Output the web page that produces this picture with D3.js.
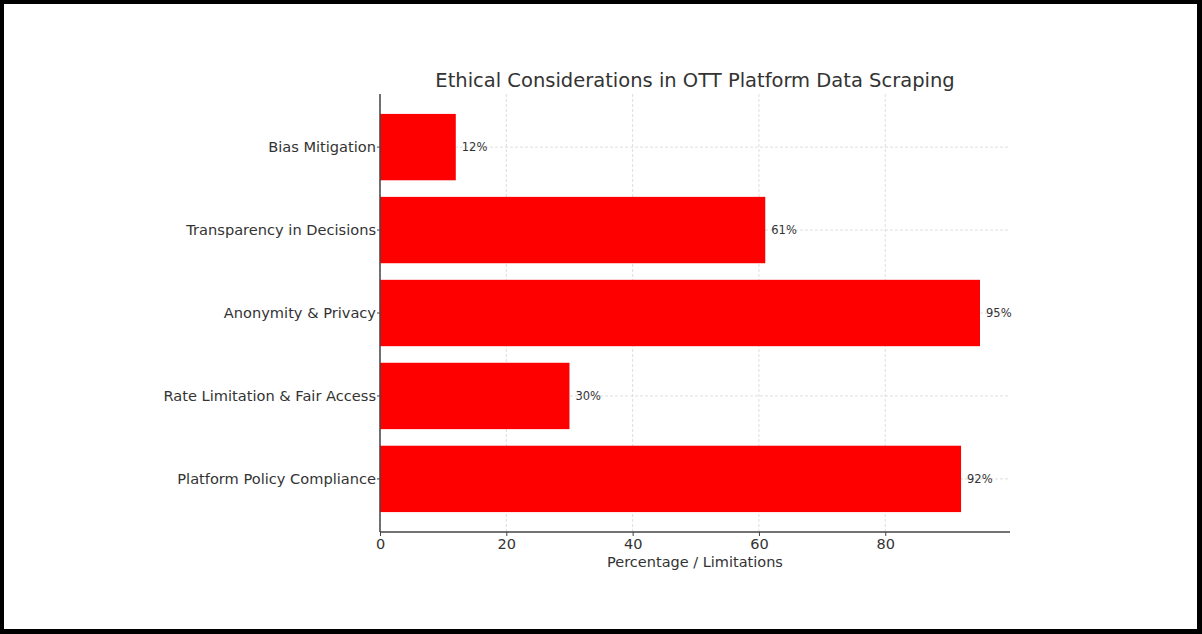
<!DOCTYPE html>
<html>
<head>
<meta charset="utf-8">
<script src="https://cdn.jsdelivr.net/npm/d3@7"></script>
<style>
  html, body { margin: 0; padding: 0; background: #000; }
  svg { display: block; }
  text { font-family: "DejaVu Sans", sans-serif; }
</style>
</head>
<body>
<svg id="chart" width="1202" height="634"></svg>
<script>
const categories = ["Bias Mitigation", "Transparency in Decisions", "Anonymity & Privacy", "Rate Limitation & Fair Access", "Platform Policy Compliance"];
const values = [12, 61, 95, 30, 92];
const xTicks = [0, 20, 40, 60, 80];
const title = "Ethical Considerations in OTT Platform Data Scraping";
const xLabel = "Percentage / Limitations";

(function () {
const svg = d3.select("#chart");
svg.append("rect").attr("x", 4).attr("y", 4).attr("width", 1193).attr("height", 625).attr("fill", "#fff");

const pL = 380, pR = 1010, pT = 94, pB = 532;
const x = d3.scaleLinear().domain([0, 99.75]).range([pL, pR]);
const y = d3.scaleBand().domain(categories).range([pT + 0.14 * 83, pB - 0.14 * 83]).paddingInner(0.2).paddingOuter(0.1);

// gridlines
const g = svg.append("g");
g.selectAll("line.vg").data(xTicks).join("line")
  .attr("x1", d => x(d)).attr("x2", d => x(d)).attr("y1", pT).attr("y2", pB)
  .attr("stroke", "#d6d6d6").attr("stroke-width", 0.8).attr("stroke-dasharray", "3,2");
g.selectAll("line.hg").data(categories).join("line")
  .attr("x1", pL).attr("x2", pR)
  .attr("y1", d => y(d) + y.bandwidth() / 2).attr("y2", d => y(d) + y.bandwidth() / 2)
  .attr("stroke", "#d6d6d6").attr("stroke-width", 0.8).attr("stroke-dasharray", "3,2");

// bars
svg.selectAll("rect.bar").data(categories).join("rect")
  .attr("class", "bar")
  .attr("x", x(0)).attr("y", d => y(d))
  .attr("width", (d, i) => x(values[i]) - x(0))
  .attr("height", y.bandwidth())
  .attr("fill", "#ff0000");

// value labels
svg.selectAll("text.val").data(categories).join("text")
  .attr("class", "val")
  .attr("x", (d, i) => x(values[i]) + 6)
  .attr("y", d => y(d) + y.bandwidth() / 2)
  .attr("dy", "0.35em")
  .attr("font-size", 11.5).attr("fill", "#333")
  .text((d, i) => values[i] + "%");

// axes
const xAxis = d3.axisBottom(x).tickValues(xTicks).tickSize(4).tickPadding(3);
const xa = svg.append("g").attr("transform", `translate(0,${pB})`).call(xAxis);
xa.select(".domain").attr("stroke", "#444").attr("stroke-width", 1.5).attr("d", `M${pL},0H${pR}`);
xa.selectAll(".tick line").attr("stroke", "#444");
xa.selectAll(".tick text").attr("font-size", 14.5).attr("fill", "#333").attr("font-family", "DejaVu Sans, sans-serif");

const yAxis = d3.axisLeft(y).tickSize(3).tickPadding(1);
const ya = svg.append("g").attr("transform", `translate(${pL},0)`).call(yAxis);
ya.select(".domain").attr("stroke", "#444").attr("stroke-width", 1.5).attr("d", `M0,${pT}V${pB}`);
ya.selectAll(".tick line").attr("stroke", "#444");
ya.selectAll(".tick text").attr("font-size", 14.6).attr("fill", "#333").attr("font-family", "DejaVu Sans, sans-serif");

svg.append("text").attr("x", (pL + pR) / 2).attr("y", 567)
  .attr("text-anchor", "middle").attr("font-size", 14.5).attr("fill", "#333").text(xLabel);

svg.append("text").attr("x", (pL + pR) / 2).attr("y", 87)
  .attr("text-anchor", "middle").attr("font-size", 19.5).attr("fill", "#333").text(title);
})();
</script>
</body>
</html>
